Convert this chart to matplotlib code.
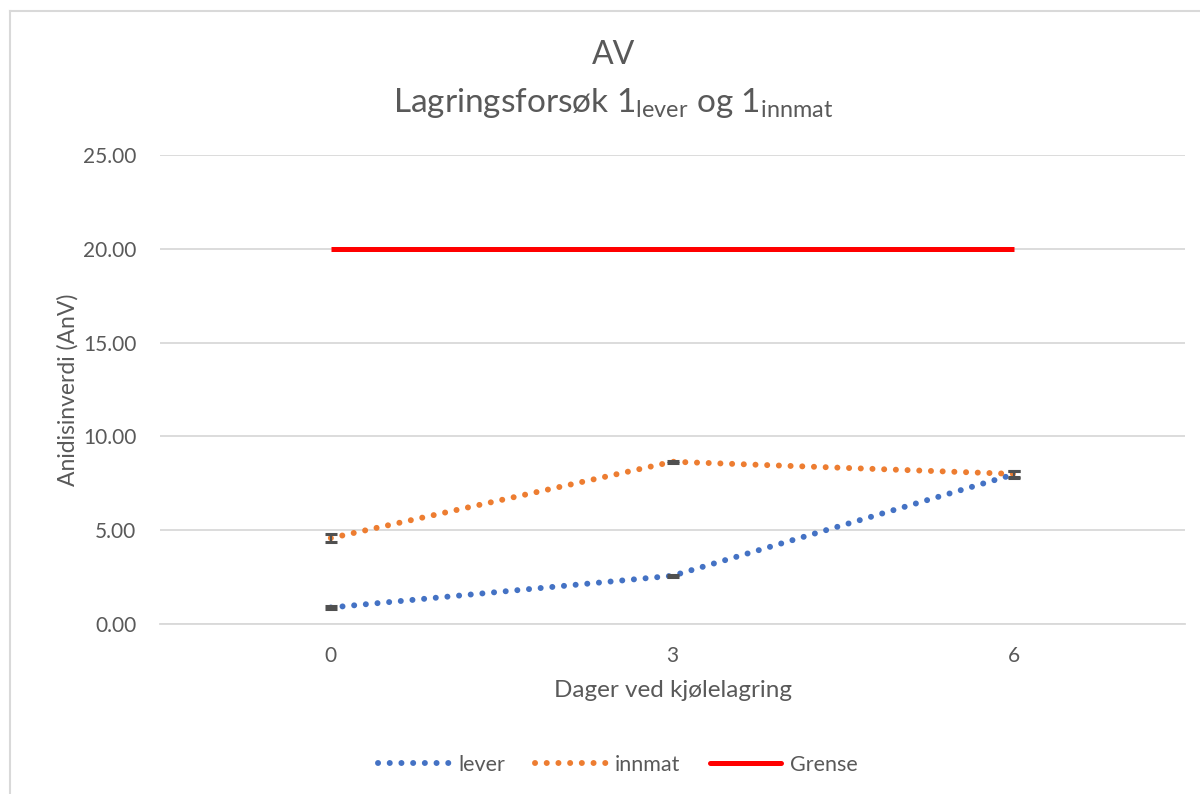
import matplotlib
matplotlib.use("Agg")
import matplotlib.pyplot as plt
from matplotlib.lines import Line2D
import numpy as np

categories = ["0", "3", "6"]
lever = [0.88, 2.57, 7.98]
lever_err = [0.06, 0.06, 0.18]
innmat = [4.58, 8.65, 8.0]
innmat_err = [0.22, 0.05, 0.18]
grense = [20.0, 20.0, 20.0]
yticks = [0, 5, 10, 15, 20, 25]

plt.rcParams['font.family'] = ['Lato', 'DejaVu Sans']
plt.rcParams['mathtext.fontset'] = 'custom'
plt.rcParams['mathtext.rm'] = 'Lato'
plt.rcParams['mathtext.it'] = 'Lato'

TXT = '#595959'
GRID = '#D9D9D9'
BLUE = '#4472C4'
ORANGE = '#ED7D31'
ERR = '#505050'

fig = plt.figure(figsize=(12, 7.94), dpi=100)
ax = fig.add_axes([160 / 1200, 170 / 794, 1025 / 1200, 469 / 794])

x = np.arange(len(categories))

dot = (0, (0.01, 1.95))
ax.plot(x, lever, color=BLUE, linewidth=4.3, linestyle=dot,
        dash_capstyle='round', zorder=3)
ax.plot(x, innmat, color=ORANGE, linewidth=4.3, linestyle=dot,
        dash_capstyle='round', zorder=3)
ax.plot(x, grense, color='#FF0000', linewidth=3.6, solid_capstyle='butt', zorder=3)

for vals, errs in [(lever, lever_err), (innmat, innmat_err)]:
    ax.errorbar(x, vals, yerr=errs, fmt='none', ecolor=ERR,
                elinewidth=1.5, capsize=4.3, capthick=2.2, zorder=4)

ax.set_xlim(-0.5, len(categories) - 0.5)
ax.set_ylim(0, 25)
ax.set_xticks(x)
ax.set_xticklabels(categories)
ax.set_yticks(yticks)
ax.set_yticklabels([f"{v:.2f}" for v in yticks])
ax.tick_params(axis='x', length=0, labelsize=15, colors=TXT, pad=16)
ax.tick_params(axis='y', length=0, labelsize=15, colors=TXT, pad=17)
ax.grid(axis='y', color=GRID, linewidth=1.3)
ax.set_axisbelow(True)
for s in ['top', 'right', 'left']:
    ax.spines[s].set_visible(False)
ax.spines['bottom'].set_color(GRID)
ax.spines['bottom'].set_linewidth(1.3)

ax.set_xlabel("Dager ved kjølelagring", fontsize=17.5, color=TXT, labelpad=10)
ax.set_ylabel("Anidisinverdi (AnV)", fontsize=16.5, color=TXT, labelpad=3)

fig.text(0.511, 1 - 55 / 794, "AV", ha='center', va='center', fontsize=23, color=TXT)
fig.text(0.511, 1 - 103 / 794,
         r"Lagringsforsøk 1$_{\mathrm{lever}}$ og 1$_{\mathrm{innmat}}$",
         ha='center', va='center', fontsize=24, color=TXT)

handles = [
    Line2D([], [], color=BLUE, linewidth=4.3, linestyle=dot, dash_capstyle='round'),
    Line2D([], [], color=ORANGE, linewidth=4.3, linestyle=dot, dash_capstyle='round'),
    Line2D([], [], color='#FF0000', linewidth=3.6, solid_capstyle='round'),
]
leg = fig.legend(handles, ["lever", "innmat", "Grense"], loc='center',
                 bbox_to_anchor=(0.515, 1 - 765 / 794), ncol=3, frameon=False,
                 fontsize=15.5, handlelength=3.3, handletextpad=0.4, columnspacing=1.4)
for t in leg.get_texts():
    t.set_color(TXT)

# chart border
fig.add_artist(Line2D([10 / 1200, 10 / 1200], [1 - 11 / 794, 0], transform=fig.transFigure,
                      color=GRID, linewidth=1.5))
fig.add_artist(Line2D([10 / 1200, 1], [1 - 11 / 794, 1 - 11 / 794], transform=fig.transFigure,
                      color=GRID, linewidth=1.5))

fig.savefig("out.png", dpi=100)
